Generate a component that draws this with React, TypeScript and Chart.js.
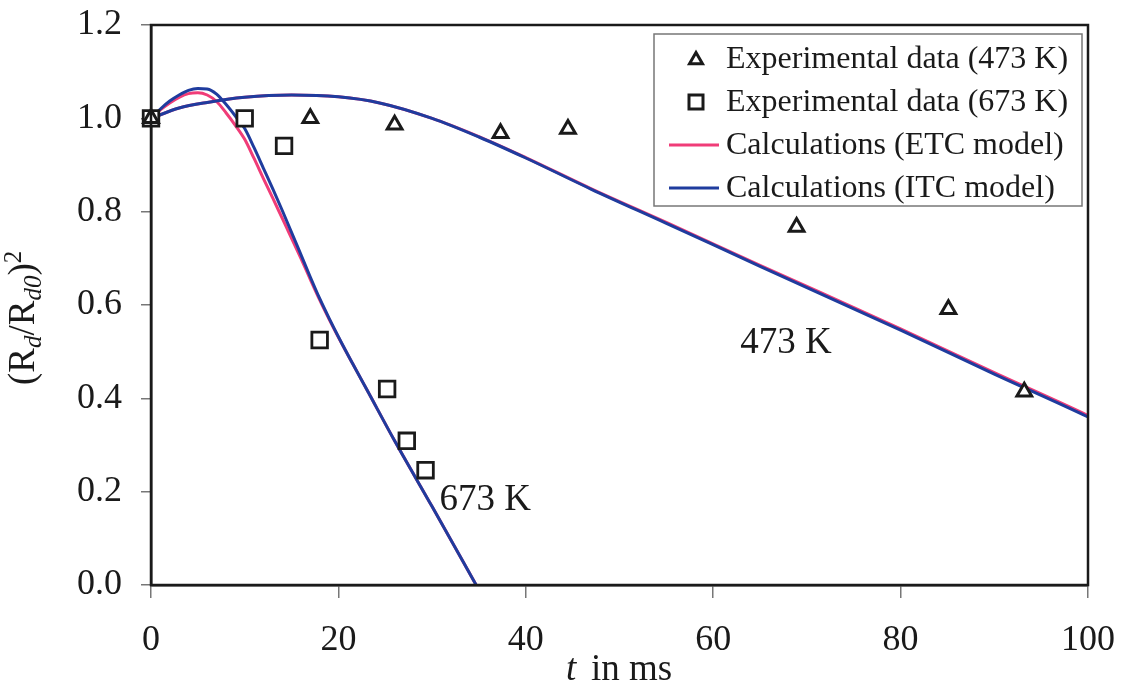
import React, { useEffect, useRef } from 'react';
import { Chart, registerables } from 'chart.js';

Chart.register(...registerables);

// Measured droplet size history (t in ms, (Rd/Rd0)^2)
const tExp473 = [0, 17, 26, 37.3, 44.5, 68.9, 85.1, 93.2];
const rExp473 = [1.0, 1.0, 0.986, 0.968, 0.977, 0.767, 0.591, 0.414];

const tExp673 = [0, 10, 14.2, 18, 25.2, 27.3, 29.3];
const rExp673 = [1.0, 1.0, 0.941, 0.525, 0.42, 0.309, 0.246];

// Model curves
const tCalc473 = [0, 3, 6, 10, 15, 20, 24.4, 30, 35, 40, 47, 55, 65, 80, 90, 100, 100.5];
const rITC473 = [1.0, 1.022, 1.034, 1.045, 1.05, 1.046, 1.033, 1.0, 0.96, 0.915, 0.848, 0.775, 0.683, 0.546, 0.452, 0.36, 0.355];
const rETC473 = [1.0, 1.022, 1.034, 1.045, 1.05, 1.046, 1.033, 1.0, 0.961, 0.916, 0.849, 0.777, 0.685, 0.549, 0.455, 0.363, 0.358];

const tCalc673 = [0, 1, 2, 3, 4, 5, 6, 7, 8, 9, 10, 11, 12, 13, 14, 16, 17, 18, 19, 20, 21.5, 23, 26, 30, 34.7];
const rITC673 = [1.0, 1.02, 1.037, 1.05, 1.06, 1.064, 1.063, 1.052, 1.03, 1.005, 0.978, 0.937, 0.893, 0.849, 0.803, 0.708, 0.66, 0.614, 0.572, 0.532, 0.475, 0.42, 0.309, 0.168, 0];
const rETC673 = [1.0, 1.018, 1.033, 1.045, 1.053, 1.055, 1.05, 1.036, 1.012, 0.985, 0.955, 0.914, 0.871, 0.829, 0.786, 0.7, 0.655, 0.611, 0.57, 0.531, 0.475, 0.42, 0.309, 0.168, 0];

const xTicks = [0, 20, 40, 60, 80, 100];
const yTicks = [0, 0.2, 0.4, 0.6, 0.8, 1.0, 1.2];

// Temperature labels placed next to the curves (data coordinates of the text's left baseline)
const curveLabels = [
  { text: '473 K', t: 62.9, r: 0.497 },
  { text: '673 K', t: 30.8, r: 0.16 },
];

const SERIF = '"Liberation Serif", "Times New Roman", serif';
const INK = '#1a1a1a';
const BLUE = '#1f3c9e';
const PINK = '#f03c78';

const pts = (xs: number[], ys: number[]) => xs.map((x, i) => ({ x, y: ys[i] }));

function drawMarker(ctx: CanvasRenderingContext2D, style: string, x: number, y: number) {
  ctx.save();
  ctx.strokeStyle = INK;
  ctx.fillStyle = '#fff';
  if (style === 'triangle') {
    ctx.lineWidth = 3;
    const r = 7.5;
    ctx.beginPath();
    for (let k = 0; k < 3; k++) {
      const a = -Math.PI / 2 + (k * 2 * Math.PI) / 3;
      const px = x + Math.cos(a) * r;
      const py = y + Math.sin(a) * r + 1;
      if (k === 0) ctx.moveTo(px, py);
      else ctx.lineTo(px, py);
    }
    ctx.closePath();
    ctx.fill();
    ctx.stroke();
  } else {
    ctx.lineWidth = 3;
    ctx.fillRect(x - 7, y - 7, 14, 14);
    ctx.strokeRect(x - 7, y - 7, 14, 14);
  }
  ctx.restore();
}

const decorPlugin = {
  id: 'decor',
  afterDraw(chart: any) {
    const { ctx, chartArea, scales } = chart;
    const { left, right, top, bottom } = chartArea;

    // plot frame
    ctx.save();
    ctx.strokeStyle = INK;
    ctx.lineWidth = 2.5;
    ctx.strokeRect(left, top, right - left, bottom - top);
    ctx.restore();

    // curve labels
    ctx.save();
    ctx.fillStyle = INK;
    ctx.font = `37px ${SERIF}`;
    ctx.textBaseline = 'alphabetic';
    for (const l of curveLabels) {
      ctx.fillText(l.text, scales.x.getPixelForValue(l.t), scales.y.getPixelForValue(l.r));
    }
    ctx.restore();

    // legend box
    const lx = left + 503;
    const ly = top + 9;
    const lw = 428;
    const lh = 172;
    ctx.save();
    ctx.fillStyle = '#fff';
    ctx.fillRect(lx, ly, lw, lh);
    ctx.strokeStyle = '#777';
    ctx.lineWidth = 1.5;
    ctx.strokeRect(lx, ly, lw, lh);
    const datasets = chart.data.datasets;
    const order = [0, 1, 3, 2];
    ctx.font = `32px ${SERIF}`;
    ctx.textBaseline = 'middle';
    order.forEach((di: number, row: number) => {
      const ds = datasets[di];
      const cy = ly + 25 + row * 43;
      if (ds.showLine) {
        ctx.strokeStyle = ds.borderColor;
        ctx.lineWidth = 3;
        ctx.beginPath();
        ctx.moveTo(lx + 15, cy);
        ctx.lineTo(lx + 65, cy);
        ctx.stroke();
      } else {
        drawMarker(ctx, ds.pointStyle, lx + 42, cy);
      }
      ctx.fillStyle = INK;
      ctx.fillText(ds.label, lx + 72, cy + 1);
    });
    ctx.restore();

    // axis titles
    ctx.save();
    ctx.fillStyle = INK;
    ctx.textBaseline = 'alphabetic';
    ctx.font = `italic 37px ${SERIF}`;
    ctx.fillText('t', 566, 680);
    ctx.font = `37px ${SERIF}`;
    ctx.fillText('in ms', 591, 680);
    ctx.restore();

    ctx.save();
    ctx.fillStyle = INK;
    ctx.translate(34, 385);
    ctx.rotate(-Math.PI / 2);
    let x = 0;
    const seg = (text: string, font: string, dy: number) => {
      ctx.font = font;
      ctx.fillText(text, x, dy);
      x += ctx.measureText(text).width;
    };
    const big = `37px ${SERIF}`;
    const sub = `italic 25px ${SERIF}`;
    seg('(', big, 0);
    seg('R', big, 0);
    seg('d', sub, 7);
    seg('/', big, 0);
    seg('R', big, 0);
    seg('d0', sub, 7);
    seg(')', big, 0);
    seg('2', `25px ${SERIF}`, -13);
    ctx.restore();
  },
};

export default function App() {
  const canvasRef = useRef<HTMLCanvasElement | null>(null);

  useEffect(() => {
    if (!canvasRef.current) return;
    const lineDs = (label: string, xs: number[], ys: number[], color: string, order: number) => ({
      label,
      data: pts(xs, ys),
      showLine: true,
      borderColor: color,
      backgroundColor: color,
      borderWidth: 3,
      pointRadius: 0,
      cubicInterpolationMode: 'monotone' as const,
      order,
      clip: false as const,
    });
    const chart = new Chart(canvasRef.current, {
      type: 'scatter',
      data: {
        datasets: [
          {
            label: 'Experimental data (473 K)',
            data: pts(tExp473, rExp473),
            pointStyle: 'triangle',
            pointRadius: 8.5,
            borderWidth: 3,
            borderColor: INK,
            backgroundColor: '#fff',
            showLine: false,
            order: 0,
            clip: false,
          },
          {
            label: 'Experimental data (673 K)',
            data: pts(tExp673, rExp673),
            pointStyle: 'rect',
            pointRadius: 11,
            borderWidth: 2.8,
            borderColor: INK,
            backgroundColor: '#fff',
            showLine: false,
            order: 0,
            clip: false,
          },
          lineDs('Calculations (ITC model)', tCalc473, rITC473, BLUE, 1),
          lineDs('Calculations (ETC model)', tCalc473, rETC473, PINK, 2),
          { ...lineDs('Calculations (ITC model)', tCalc673, rITC673, BLUE, 1), clip: { left: 5, right: 5, top: 5, bottom: 0 } },
          { ...lineDs('Calculations (ETC model)', tCalc673, rETC673, PINK, 2), clip: { left: 5, right: 5, top: 5, bottom: 0 } },
        ] as any,
      },
      options: {
        animation: false,
        responsive: false,
        events: [],
        layout: { padding: { top: 25, right: 38, left: 0, bottom: 0 } },
        plugins: { legend: { display: false }, tooltip: { enabled: false } },
        scales: {
          x: {
            type: 'linear',
            min: 0,
            max: 100,
            afterBuildTicks: (s: any) => {
              s.ticks = xTicks.map((v) => ({ value: v }));
            },
            ticks: {
              font: { family: SERIF, size: 36 },
              color: INK,
              padding: 21,
              maxRotation: 0,
              callback: (v: any) => String(v),
            },
            grid: { drawOnChartArea: false, drawTicks: true, tickLength: 13, color: '#777', lineWidth: 1.5 },
            border: { display: true, color: INK, width: 2.5 },
            afterFit: (s: any) => {
              s.height = 103;
              s.paddingLeft = 0;
              s.paddingRight = 0;
            },
          },
          y: {
            type: 'linear',
            min: 0,
            max: 1.2,
            afterBuildTicks: (s: any) => {
              s.ticks = yTicks.map((v) => ({ value: v }));
            },
            ticks: {
              font: { family: SERIF, size: 36 },
              color: INK,
              padding: 19,
              callback: (v: any) => Number(v).toFixed(1),
            },
            grid: { drawOnChartArea: false, drawTicks: true, tickLength: 10, color: '#777', lineWidth: 1.5 },
            border: { display: true, color: INK, width: 2.5 },
            afterFit: (s: any) => {
              s.width = 151;
              s.paddingTop = 0;
              s.paddingBottom = 0;
            },
          },
        },
      } as any,
      plugins: [decorPlugin],
    });
    return () => chart.destroy();
  }, []);

  return (
    <div style={{ position: 'fixed', left: 0, top: 0, width: 1126, height: 688, background: '#fff' }}>
      <canvas ref={canvasRef} width={1126} height={688} style={{ width: 1126, height: 688, display: 'block' }} />
    </div>
  );
}
